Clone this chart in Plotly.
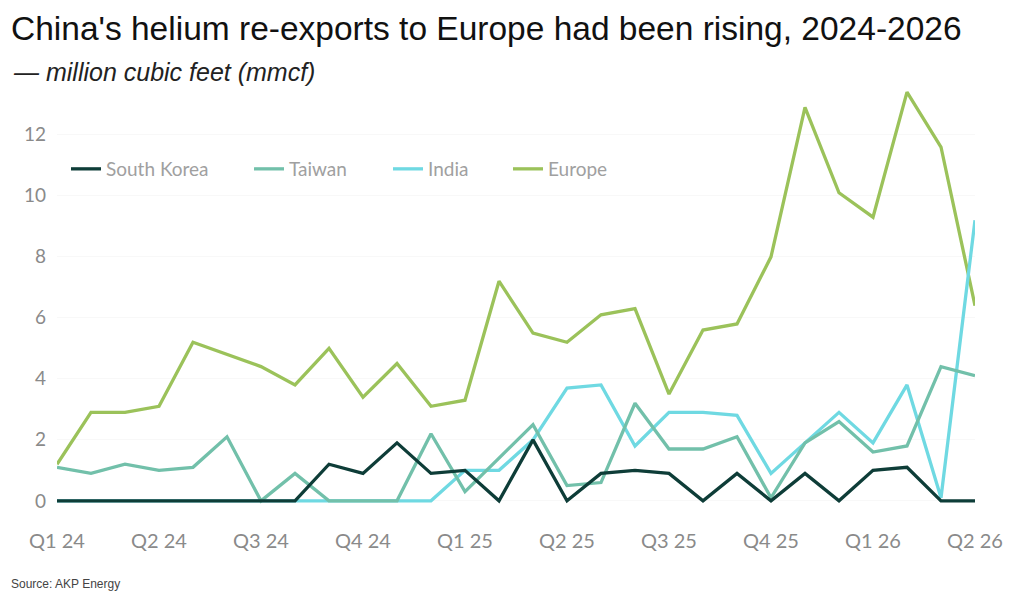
import plotly.graph_objects as go

months = list(range(28))  # Jan 2024 .. Apr 2026
tick_pos = [0, 3, 6, 9, 12, 15, 18, 21, 24, 27]
tick_labels = ["Q1 24", "Q2 24", "Q3 24", "Q4 24", "Q1 25", "Q2 25", "Q3 25", "Q4 25", "Q1 26", "Q2 26"]

south_korea = [0, 0, 0, 0, 0, 0, 0, 0, 1.2, 0.9, 1.9, 0.9, 1.0, 0.0, 2.0, 0.0,
               0.9, 1.0, 0.9, 0.0, 0.9, 0.0, 0.9, 0.0, 1.0, 1.1, 0.0, 0.0]
taiwan = [1.1, 0.9, 1.2, 1.0, 1.1, 2.1, 0.0, 0.9, 0.0, 0.0, 0.0, 2.2, 0.3, 1.4, 2.5, 0.5,
          0.6, 3.2, 1.7, 1.7, 2.1, 0.1, 1.9, 2.6, 1.6, 1.8, 4.4, 4.1]
india = [0, 0, 0, 0, 0, 0, 0, 0, 0, 0, 0, 0, 1.0, 1.0, 2.0, 3.7,
         3.8, 1.8, 2.9, 2.9, 2.8, 0.9, 1.9, 2.9, 1.9, 3.8, 0.1, 9.2]
europe = [1.2, 2.9, 2.9, 3.1, 5.2, 4.8, 4.4, 3.8, 5.0, 3.4, 4.5, 3.1, 3.3, 7.2, 5.5, 5.2,
          6.1, 6.3, 3.5, 5.6, 5.8, 8.0, 12.9, 10.1, 9.3, 13.4, 11.6, 6.4]

series_names = ["South Korea", "Taiwan", "India", "Europe"]
series_values = [south_korea, taiwan, india, europe]
series_colors = ["#0e3d38", "#72c0aa", "#6fd9e2", "#9bc25a"]
legend_left_px = [66, 249, 388, 508]
legend_ids = ["legend", "legend2", "legend3", "legend4"]

plot_h = 599 - 86 - 89
plot_w = 1024 - 57 - 49
def px_to_paper(xp, yp):
    return (xp - 57) / plot_w, (599 - 89 - yp) / plot_h

fig = go.Figure()
for i in [3, 2, 1, 0]:
    fig.add_trace(go.Scatter(
        x=months, y=series_values[i], name=series_names[i], mode="lines",
        line=dict(color=series_colors[i], width=3.3), legend=legend_ids[i],
    ))

layout_legends = {}
for i, lid in enumerate(legend_ids):
    lx, ly = px_to_paper(legend_left_px[i], 169)
    layout_legends[lid] = dict(orientation="h", x=lx, y=ly, xanchor="left", yanchor="middle",
                               font=dict(size=19, color="#a0a0a0"), bgcolor="rgba(0,0,0,0)",
                               itemwidth=30)

fig.update_layout(
    width=1024, height=599,
    margin=dict(l=57, r=49, t=86, b=89),
    paper_bgcolor="white", plot_bgcolor="white",
    font=dict(family="Lato, sans-serif", color="#8a8a8a"),
    showlegend=True,
    xaxis=dict(range=[0, 27], tickmode="array", tickvals=tick_pos, ticktext=tick_labels,
               showgrid=False, zeroline=False, showline=False, ticks="",
               tickfont=dict(size=20, color="#8a8a8a"), ticklabelstandoff=17),
    yaxis=dict(range=[-0.3, 13.6], tickmode="array", tickvals=[0, 2, 4, 6, 8, 10, 12],
               showgrid=True, gridcolor="#f8f8f8", zeroline=False, showline=False, ticks="",
               tickfont=dict(size=19, color="#8a8a8a"), ticklabelstandoff=10),
    **layout_legends,
)

ax, ay = px_to_paper(9, 8)
fig.add_annotation(text="China's helium re-exports to Europe had been rising, 2024-2026",
                   xref="paper", yref="paper", x=ax, y=ay, xanchor="left", yanchor="top",
                   showarrow=False, font=dict(family="Liberation Sans, Arial", size=33.5, color="#111111"))
ax, ay = px_to_paper(11, 56)
fig.add_annotation(text="<i>— million cubic feet (mmcf)</i>",
                   xref="paper", yref="paper", x=ax, y=ay, xanchor="left", yanchor="top",
                   showarrow=False, font=dict(family="Liberation Sans, Arial", size=25, color="#222222"))
ax, ay = px_to_paper(9, 593)
fig.add_annotation(text="Source: AKP Energy",
                   xref="paper", yref="paper", x=ax, y=ay, xanchor="left", yanchor="bottom",
                   showarrow=False, font=dict(family="Liberation Sans, Arial", size=12, color="#444444"))

fig.write_html("out.html")
